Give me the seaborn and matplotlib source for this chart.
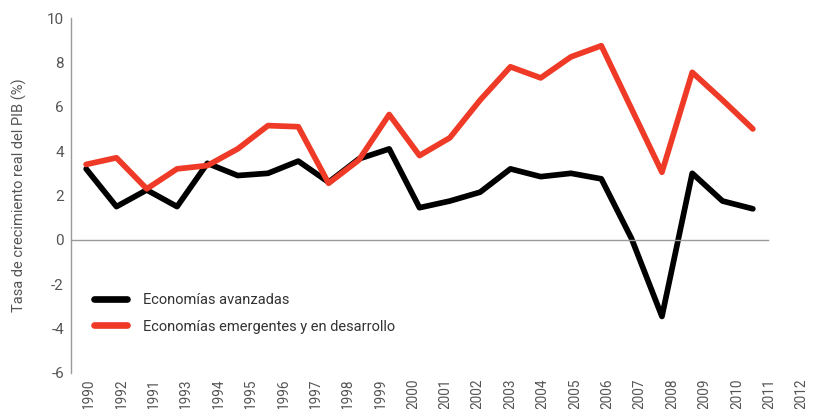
import matplotlib
matplotlib.use("Agg")
import matplotlib.pyplot as plt
import seaborn as sns
import pandas as pd
import numpy as np

year_labels = ['1990', '1992', '1991', '1993', '1994', '1995', '1996', '1997', '1998',
               '1999', '2000', '2001', '2002', '2003', '2004', '2005', '2006', '2007',
               '2008', '2009', '2010', '2011', '2012']
avanzadas = [3.2, 1.5, 2.25, 1.5, 3.45, 2.9, 3.0, 3.55, 2.6, 3.65, 4.1, 1.45, 1.75,
             2.15, 3.2, 2.85, 3.0, 2.75, 0.05, -3.45, 3.0, 1.75, 1.4]
emergentes = [3.4, 3.7, 2.3, 3.2, 3.35, 4.1, 5.15, 5.1, 2.55, 3.6, 5.65, 3.8, 4.6,
              6.3, 7.8, 7.3, 8.25, 8.75, 5.9, 3.05, 7.55, 6.3, 5.0]
series_names = ['Economías avanzadas', 'Economías emergentes y en desarrollo']
colors = ['#000000', '#EE3A26']

n = len(year_labels)
df = pd.DataFrame({
    'idx': list(range(n)) * 2,
    'valor': avanzadas + emergentes,
    'serie': [series_names[0]] * n + [series_names[1]] * n,
})

sns.set_style('white')
plt.rcParams['font.family'] = ['Roboto', 'DejaVu Sans']
plt.rcParams['axes.unicode_minus'] = False

txt = '#555555'
gray = '#9a9a9a'

fig = plt.figure(figsize=(8.17, 4.09), dpi=100)
ax = fig.add_axes([71 / 817, 1 - 373 / 409, (768 - 71) / 817, (373 - 18) / 409])

sns.lineplot(data=df, x='idx', y='valor', hue='serie', palette=colors,
             linewidth=4.1, ax=ax, legend=True, sort=False)

ax.set_xlim(-0.5, n - 0.5)
ax.set_ylim(-6, 10)
ax.set_yticks(np.arange(-6, 11, 2))
ax.set_ylabel('Tasa de crecimiento real del PIB (%)', fontsize=10.5, color=txt,
              labelpad=14)
ax.set_xlabel('')

for s in ['top', 'right']:
    ax.spines[s].set_visible(False)
ax.spines['left'].set_color(gray)
ax.spines['bottom'].set_color(gray)
ax.spines['left'].set_linewidth(1.0)
ax.spines['bottom'].set_linewidth(1.0)
ax.spines['bottom'].set_position(('data', 0))

ax.set_xticks(np.arange(-0.5, n, 1.0))
ax.set_xticklabels([])
ax.tick_params(axis='x', direction='out', length=4, color=gray, width=1)
ax.tick_params(axis='y', direction='out', length=3, color=gray, width=1,
               labelsize=11, labelcolor=txt, pad=2)

# category labels: a separate label axis (spacing differs from the data grid, as in the original)
lab_ax = fig.add_axes([71 / 817, 1 - 373 / 409, (817 - 71) / 817, 0.001])
lab_ax.set_xlim((71 - 89) / 32.4, (817 - 89) / 32.4)
lab_ax.set_xticks(range(n))
lab_ax.set_xticklabels(year_labels, rotation=90, fontsize=9.8, color=txt)
lab_ax.tick_params(axis='x', length=0, pad=4)
lab_ax.set_yticks([])
for s in lab_ax.spines.values():
    s.set_visible(False)
lab_ax.patch.set_alpha(0)

handles, labels = ax.get_legend_handles_labels()
leg = ax.legend(handles, labels, loc='upper left', bbox_to_anchor=(0.014, 0.262),
                frameon=False, fontsize=10.5, handlelength=2.3, handletextpad=1.1,
                labelspacing=0.85)
for t in leg.get_texts():
    t.set_color('#333333')
for l in leg.get_lines():
    l.set_linewidth(4.8)
    l.set_solid_capstyle('round')

fig.savefig('out.png', dpi=100)
